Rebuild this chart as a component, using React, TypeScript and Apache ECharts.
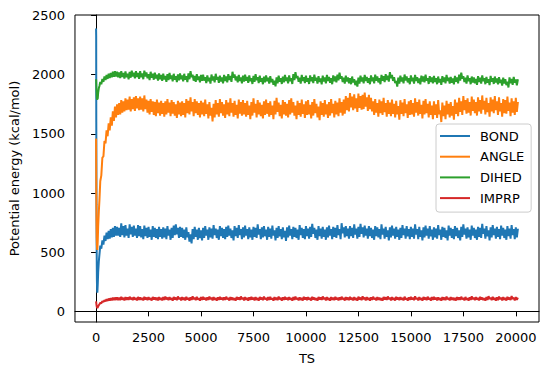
import React, { useEffect, useRef } from "react";
import * as echarts from "echarts";

// Early transient samples (TS), then the fluctuation band every 50 TS up to 20100:
// *_HIGH = upper edge of the band at 1100, 1200, ..., 20100
// *_LOW  = lower edge of the band at 1150, 1250, ..., 20050
const EARLY_TS = [0, 5, 10, 20, 30, 40, 50, 60, 80, 100, 130, 160, 200, 250, 300, 350, 400, 450, 500, 550, 600, 650, 700, 750, 800, 850, 900, 950, 1000, 1050];
const RUN_START = 1100;
const RUN_STEP = 100;

const BOND_EARLY = [2390, 2330, 1600, 900, 480, 260, 180, 158, 230, 330, 420, 480, 555, 530, 600, 565, 640, 595, 665, 610, 680, 615, 695, 625, 705, 630, 720, 640, 715, 640];
const BOND_HIGH = [
  705, 745, 720, 730, 700, 735, 715, 725, 700, 730,
  720, 695, 725, 705, 715, 690, 720, 705, 695, 715,
  695, 710, 700, 720, 690, 705, 725, 735, 705, 715,
  705, 690, 710, 670, 650, 695, 715, 690, 705, 685,
  705, 720, 690, 710, 700, 730, 700, 690, 720, 705,
  695, 715, 725, 700, 685, 720, 705, 730, 695, 710,
  725, 695, 710, 690, 715, 705, 735, 695, 710, 720,
  690, 715, 700, 725, 685, 705, 720, 695, 710, 680,
  710, 725, 695, 715, 705, 690, 730, 705, 695, 720,
  700, 715, 740, 705, 690, 720, 700, 715, 690, 710,
  725, 695, 715, 705, 730, 695, 745, 710, 720, 700,
  720, 705, 735, 700, 715, 740, 710, 725, 700, 720,
  705, 690, 720, 710, 695, 735, 700, 715, 685, 710,
  725, 700, 715, 690, 705, 730, 700, 720, 695, 715,
  700, 735, 695, 715, 685, 710, 725, 700, 720, 690,
  710, 700, 730, 690, 715, 705, 685, 725, 705, 695,
  720, 705, 685, 715, 735, 700, 710, 690, 725, 705,
  690, 715, 705, 740, 700, 720, 685, 710, 730, 700,
  715, 695, 725, 705, 690, 720, 700, 730, 695, 710,
  700,
];
const BOND_LOW = [
  630, 645, 625, 640, 620, 650, 630, 640, 620, 635,
  625, 610, 635, 620, 630, 605, 630, 620, 610, 630,
  615, 625, 610, 640, 605, 620, 645, 650, 620, 630,
  620, 605, 625, 590, 575, 610, 630, 605, 620, 600,
  620, 640, 605, 625, 615, 645, 620, 605, 635, 620,
  610, 630, 640, 620, 600, 635, 620, 645, 610, 625,
  640, 610, 625, 605, 630, 620, 650, 610, 625, 635,
  605, 630, 615, 640, 600, 620, 635, 610, 625, 595,
  625, 640, 610, 630, 620, 605, 645, 620, 610, 635,
  615, 630, 655, 620, 605, 635, 615, 630, 605, 625,
  640, 610, 630, 620, 645, 610, 660, 625, 635, 615,
  635, 620, 650, 615, 630, 655, 625, 640, 615, 635,
  620, 605, 635, 625, 610, 650, 615, 630, 600, 625,
  640, 615, 630, 605, 620, 645, 615, 635, 610, 630,
  615, 650, 610, 630, 600, 625, 640, 615, 635, 605,
  625, 615, 645, 605, 630, 620, 600, 640, 620, 610,
  635, 620, 600, 630, 650, 615, 625, 605, 640, 620,
  605, 630, 620, 655, 615, 635, 600, 625, 645, 615,
  630, 610, 640, 620, 605, 635, 615, 645, 610, 625,
];

const ANGLE_EARLY = [1460, 1250, 1000, 760, 620, 560, 530, 520, 600, 720, 840, 940, 1100, 1150, 1300, 1310, 1440, 1420, 1530, 1480, 1590, 1530, 1640, 1570, 1690, 1610, 1730, 1640, 1750, 1660];
const ANGLE_HIGH = [
  1760, 1785, 1775, 1800, 1790, 1815, 1795, 1810, 1820, 1800,
  1815, 1800, 1825, 1790, 1780, 1795, 1775, 1770, 1790, 1765,
  1780, 1760, 1775, 1795, 1765, 1785, 1770, 1750, 1780, 1765,
  1775, 1760, 1795, 1780, 1810, 1770, 1795, 1775, 1760, 1780,
  1765, 1790, 1750, 1770, 1720, 1755, 1785, 1760, 1795, 1770,
  1750, 1785, 1765, 1800, 1760, 1780, 1745, 1790, 1770, 1785,
  1760, 1780, 1740, 1770, 1800, 1755, 1785, 1765, 1745, 1775,
  1790, 1760, 1775, 1740, 1780, 1805, 1765, 1745, 1785, 1770,
  1755, 1785, 1800, 1770, 1740, 1780, 1760, 1790, 1750, 1775,
  1785, 1745, 1770, 1795, 1755, 1730, 1775, 1760, 1785, 1750,
  1770, 1795, 1755, 1780, 1765, 1800, 1770, 1790, 1820, 1805,
  1845, 1815, 1835, 1800, 1840, 1820, 1830, 1850, 1810, 1830,
  1805, 1775, 1795, 1760, 1790, 1775, 1805, 1760, 1785, 1765,
  1790, 1755, 1780, 1735, 1785, 1765, 1795, 1750, 1775, 1785,
  1760, 1800, 1770, 1790, 1745, 1780, 1795, 1755, 1775, 1740,
  1775, 1750, 1785, 1700, 1765, 1740, 1780, 1755, 1770, 1735,
  1790, 1765, 1805, 1775, 1820, 1785, 1800, 1770, 1815, 1790,
  1770, 1810, 1785, 1825, 1780, 1805, 1760, 1810, 1790, 1820,
  1775, 1810, 1760, 1795, 1785, 1815, 1765, 1800, 1775, 1805,
  1770,
];
const ANGLE_LOW = [
  1665, 1680, 1690, 1700, 1705, 1690, 1710, 1695, 1715, 1700,
  1705, 1690, 1710, 1680, 1665, 1685, 1660, 1650, 1675, 1655,
  1670, 1645, 1665, 1680, 1650, 1670, 1655, 1635, 1665, 1650,
  1660, 1640, 1675, 1665, 1690, 1650, 1675, 1660, 1640, 1665,
  1650, 1670, 1630, 1655, 1605, 1640, 1665, 1645, 1675, 1655,
  1635, 1665, 1650, 1680, 1645, 1660, 1630, 1670, 1655, 1665,
  1645, 1660, 1625, 1655, 1680, 1640, 1665, 1650, 1630, 1660,
  1670, 1645, 1660, 1625, 1665, 1685, 1650, 1630, 1665, 1655,
  1640, 1665, 1680, 1655, 1625, 1660, 1645, 1670, 1635, 1660,
  1665, 1630, 1655, 1675, 1640, 1615, 1660, 1645, 1665, 1635,
  1655, 1675, 1640, 1665, 1650, 1680, 1655, 1670, 1700, 1690,
  1725, 1700, 1715, 1685, 1720, 1705, 1710, 1730, 1695, 1710,
  1690, 1660, 1680, 1645, 1675, 1660, 1685, 1645, 1670, 1650,
  1670, 1640, 1665, 1620, 1670, 1650, 1675, 1635, 1660, 1665,
  1645, 1680, 1655, 1670, 1630, 1665, 1675, 1640, 1660, 1625,
  1660, 1635, 1665, 1600, 1650, 1625, 1665, 1640, 1655, 1620,
  1670, 1650, 1685, 1660, 1700, 1670, 1680, 1655, 1695, 1675,
  1655, 1690, 1670, 1705, 1665, 1685, 1645, 1690, 1675, 1700,
  1660, 1690, 1645, 1675, 1670, 1695, 1650, 1680, 1660, 1685,
];

const DIHED_EARLY = [1962, 1950, 1920, 1870, 1830, 1800, 1790, 1785, 1800, 1850, 1885, 1905, 1940, 1920, 1965, 1940, 1985, 1955, 1998, 1965, 2008, 1972, 2015, 1978, 2025, 1982, 2030, 1985, 2025, 1978];
const DIHED_HIGH = [
  2020, 2030, 2015, 2028, 2010, 2025, 2035, 2018, 2030, 2015,
  2030, 2012, 2035, 2020, 2005, 2025, 2008, 2018, 2000, 2012,
  1998, 2010, 1990, 2005, 2015, 1995, 2008, 1988, 2002, 2012,
  1995, 2008, 1988, 2012, 2030, 2000, 1990, 2005, 1985, 1998,
  2000, 1980, 1995, 1975, 2002, 1985, 2008, 1982, 1992, 1978,
  1998, 1985, 2005, 1990, 2025, 2002, 1985, 1998, 1978, 1992,
  2000, 1982, 1995, 1972, 1990, 2005, 1980, 1992, 1970, 1985,
  1995, 1975, 1988, 1965, 1950, 1978, 1992, 1972, 1985, 1998,
  1978, 1995, 1972, 2005, 2022, 1990, 1975, 1998, 1980, 1992,
  1972, 1995, 1980, 2000, 1975, 1988, 1968, 1992, 1978, 1998,
  1982, 1970, 1995, 1985, 2002, 2018, 1988, 1975, 1992, 1978,
  1970, 1985, 1962, 1950, 1975, 1992, 1978, 1998, 1982, 1970,
  1995, 1978, 2000, 1985, 1970, 1998, 1988, 2005, 1992, 2022,
  1998, 1980, 1948, 1975, 1992, 1978, 2002, 1985, 1970, 1995,
  1975, 1998, 1980, 1968, 1992, 1985, 2000, 1972, 1988, 1978,
  1990, 1970, 1985, 1965, 1988, 1978, 1998, 1975, 1982, 1968,
  1990, 1978, 2000, 2018, 1988, 1975, 1995, 1970, 1985, 1978,
  1965, 1988, 1975, 1995, 1970, 1982, 1962, 1990, 1972, 1985,
  1968, 1980, 1958, 1975, 1962, 1942, 1978, 1965, 1982, 1960,
  1962,
];
const DIHED_LOW = [
  1972, 1980, 1968, 1978, 1962, 1975, 1985, 1970, 1980, 1965,
  1980, 1962, 1985, 1970, 1955, 1975, 1958, 1968, 1950, 1962,
  1948, 1960, 1940, 1955, 1965, 1945, 1958, 1938, 1952, 1962,
  1945, 1958, 1938, 1962, 1980, 1950, 1940, 1955, 1935, 1948,
  1950, 1930, 1945, 1925, 1952, 1935, 1958, 1932, 1942, 1928,
  1948, 1935, 1955, 1940, 1975, 1952, 1935, 1948, 1928, 1942,
  1950, 1932, 1945, 1922, 1940, 1955, 1930, 1942, 1920, 1935,
  1945, 1925, 1938, 1915, 1902, 1928, 1942, 1922, 1935, 1948,
  1928, 1945, 1922, 1955, 1972, 1940, 1925, 1948, 1930, 1942,
  1922, 1945, 1930, 1950, 1925, 1938, 1918, 1942, 1928, 1948,
  1932, 1920, 1945, 1935, 1952, 1968, 1938, 1925, 1942, 1928,
  1920, 1935, 1912, 1900, 1925, 1942, 1928, 1948, 1932, 1920,
  1945, 1928, 1950, 1935, 1920, 1948, 1938, 1955, 1942, 1972,
  1948, 1930, 1900, 1925, 1942, 1928, 1952, 1935, 1920, 1945,
  1925, 1948, 1930, 1918, 1942, 1935, 1950, 1922, 1938, 1928,
  1940, 1920, 1935, 1915, 1938, 1928, 1948, 1925, 1932, 1918,
  1940, 1928, 1950, 1968, 1938, 1925, 1945, 1920, 1935, 1928,
  1915, 1938, 1925, 1945, 1920, 1932, 1912, 1940, 1922, 1935,
  1918, 1930, 1908, 1925, 1912, 1892, 1928, 1915, 1932, 1910,
];

const IMPRP_EARLY = [85, 80, 70, 55, 42, 34, 30, 28, 33, 42, 52, 60, 72, 68, 86, 78, 95, 84, 102, 88, 108, 91, 112, 93, 115, 95, 117, 96, 118, 95];
const IMPRP_HIGH = [
  116, 122, 114, 120, 118, 124, 115, 121, 113, 122,
  119, 114, 123, 117, 121, 112, 122, 118, 115, 121,
  114, 120, 125, 116, 121, 112, 122, 117, 126, 115,
  120, 115, 123, 113, 119, 127, 116, 122, 112, 120,
  123, 114, 118, 125, 115, 121, 112, 119, 123, 116,
  119, 124, 113, 121, 117, 112, 122, 118, 126, 115,
  121, 113, 119, 123, 115, 120, 112, 122, 117, 125,
  114, 120, 123, 112, 121, 116, 125, 113, 119, 122,
  116, 121, 112, 120, 124, 114, 119, 113, 123, 118,
  121, 113, 123, 117, 112, 122, 118, 126, 115, 120,
  112, 121, 116, 123, 114, 119, 124, 113, 121, 117,
  122, 114, 120, 112, 124, 117, 127, 115, 121, 113,
  119, 124, 114, 121, 116, 112, 122, 119, 126, 115,
  120, 113, 123, 117, 121, 114, 124, 112, 119, 122,
  116, 127, 114, 121, 112, 122, 117, 124, 113, 120,
  123, 115, 119, 112, 121, 117, 125, 114, 120, 116,
  113, 121, 119, 124, 114, 122, 112, 119, 127, 116,
  121, 114, 123, 117, 112, 120, 128, 116, 122, 113,
  118, 125, 115, 121, 113, 123, 117, 129, 114, 120,
  116,
];
const IMPRP_LOW = [
  95, 99, 93, 98, 96, 101, 94, 99, 92, 98,
  97, 92, 100, 95, 98, 91, 99, 96, 93, 98,
  92, 97, 101, 94, 98, 90, 99, 95, 102, 93,
  97, 93, 100, 91, 96, 103, 94, 99, 90, 97,
  100, 92, 96, 102, 93, 98, 90, 96, 100, 94,
  96, 101, 91, 98, 95, 90, 99, 96, 103, 93,
  98, 91, 96, 100, 93, 97, 90, 99, 95, 102,
  92, 97, 100, 90, 98, 94, 102, 91, 96, 99,
  94, 98, 90, 97, 101, 92, 96, 91, 100, 95,
  98, 91, 100, 95, 90, 99, 96, 103, 93, 97,
  90, 98, 94, 100, 92, 96, 101, 91, 98, 95,
  99, 92, 97, 90, 101, 95, 104, 93, 98, 91,
  96, 101, 92, 98, 94, 90, 99, 96, 103, 93,
  97, 91, 100, 95, 98, 92, 101, 90, 96, 99,
  94, 104, 92, 98, 90, 99, 95, 101, 91, 97,
  100, 93, 96, 90, 98, 95, 102, 92, 97, 94,
  91, 98, 96, 101, 92, 99, 90, 96, 104, 94,
  98, 92, 100, 95, 90, 97, 105, 94, 99, 91,
  95, 102, 93, 98, 91, 100, 95, 106, 92, 97,
];

const SERIES_NAMES = ["BOND", "ANGLE", "DIHED", "IMPRP"];
const COLORS = ["#1f77b4", "#ff7f0e", "#2ca02c", "#d62728"];
const X_TICKS = [0, 2500, 5000, 7500, 10000, 12500, 15000, 17500, 20000];
const Y_TICKS = [0, 500, 1000, 1500, 2000, 2500];
const FONT = "DejaVu Sans";

function buildSeries(early: number[], high: number[], low: number[]): [number, number][] {
  const pts: [number, number][] = EARLY_TS.map((t, i) => [t, early[i]]);
  for (let k = 0; k < high.length; k++) {
    pts.push([RUN_START + RUN_STEP * k, high[k]]);
    if (k < low.length) pts.push([RUN_START + RUN_STEP * k + RUN_STEP / 2, low[k]]);
  }
  return pts;
}

const SERIES_DATA = [
  buildSeries(BOND_EARLY, BOND_HIGH, BOND_LOW),
  buildSeries(ANGLE_EARLY, ANGLE_HIGH, ANGLE_LOW),
  buildSeries(DIHED_EARLY, DIHED_HIGH, DIHED_LOW),
  buildSeries(IMPRP_EARLY, IMPRP_HIGH, IMPRP_LOW),
];

export default function App() {
  const ref = useRef<HTMLDivElement>(null);
  useEffect(() => {
    if (!ref.current) return;
    const chart = echarts.init(ref.current, null, { renderer: "svg" });
    const axisFont = { fontFamily: FONT, fontSize: 13, color: "#000" };
    chart.setOption({
      animation: false,
      backgroundColor: "#fff",
      textStyle: { fontFamily: FONT },
      grid: {
        left: 74,
        right: 10,
        top: 15,
        bottom: 53,
        show: true,
        borderColor: "#000",
        borderWidth: 1,
        backgroundColor: "transparent",
      },
      legend: {
        orient: "vertical",
        left: 436,
        top: 124,
        data: SERIES_NAMES,
        icon: "rect",
        itemWidth: 30,
        itemHeight: 2,
        itemGap: 4.7,
        padding: [4, 7, 6, 4],
        borderColor: "#cccccc",
        borderWidth: 1,
        borderRadius: 3,
        backgroundColor: "rgba(255,255,255,0.8)",
        textStyle: { ...axisFont, lineHeight: 16, padding: [0, 0, 0, 5] },
      },
      xAxis: {
        type: "value",
        min: -1005,
        max: 21105,
        name: "TS",
        nameLocation: "middle",
        nameGap: 30,
        nameTextStyle: axisFont,
        axisLine: { show: true, lineStyle: { color: "#000", width: 1 } },
        axisTick: { show: true, length: 5, lineStyle: { color: "#000" }, customValues: X_TICKS },
        axisLabel: { ...axisFont, margin: 9, customValues: X_TICKS, formatter: (v: number) => String(v) },
        splitLine: { show: false },
      },
      yAxis: {
        type: "value",
        min: -90,
        max: 2505,
        name: "Potential energy (kcal/mol)",
        nameLocation: "middle",
        nameGap: 51,
        nameTextStyle: axisFont,
        axisLine: { show: true, lineStyle: { color: "#000", width: 1 } },
        axisTick: { show: true, length: 5, lineStyle: { color: "#000" }, customValues: Y_TICKS },
        axisLabel: { ...axisFont, margin: 10, customValues: Y_TICKS, formatter: (v: number) => String(v) },
        splitLine: { show: false },
      },
      series: SERIES_NAMES.map((name, s) => ({
        name,
        type: "line",
        showSymbol: false,
        symbol: "none",
        color: COLORS[s],
        lineStyle: { color: COLORS[s], width: 2 },
        data: SERIES_DATA[s],
      })),
    });
    return () => chart.dispose();
  }, []);
  return (
    <div
      ref={ref}
      style={{ position: "absolute", left: 0, top: 0, width: 549, height: 375 }}
    />
  );
}
